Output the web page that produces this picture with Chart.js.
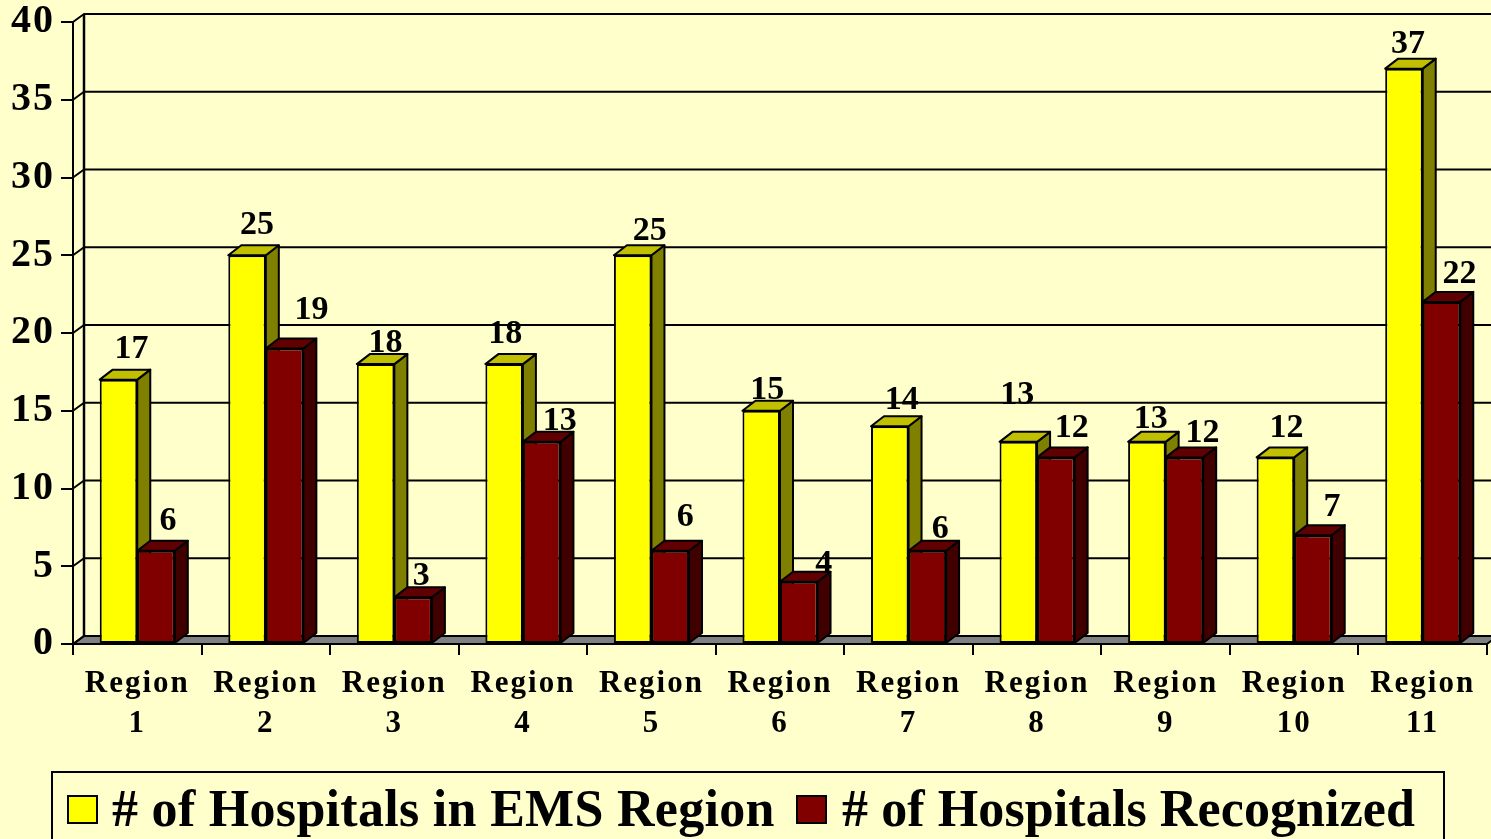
<!DOCTYPE html>
<html>
<head>
<meta charset="utf-8">
<title>Hospitals by EMS Region</title>
<script src="https://cdn.jsdelivr.net/npm/chart.js@4"></script>
<style>
  html, body { margin: 0; padding: 0; background: #FFFFCC; overflow: hidden; }
  canvas { display: block; }
</style>
</head>
<body>
<canvas id="chart" width="1491" height="839"></canvas>
<script>
const regions = [
  ['Region', '1'], ['Region', '2'], ['Region', '3'], ['Region', '4'],
  ['Region', '5'], ['Region', '6'], ['Region', '7'], ['Region', '8'],
  ['Region', '9'], ['Region', '10'], ['Region', '11']
];
const hospitalsInRegion = [17, 25, 18, 18, 25, 15, 14, 13, 13, 12, 37];
const hospitalsRecognized = [6, 19, 3, 13, 6, 4, 6, 12, 12, 7, 22];

// hand placed value labels in the original, [dx, dy] from the bar's top centre
const inRegionLabelShift = [[13, -30], [10, -30], [10, -21], [1, -30], [17, -24], [6, -21], [12, -26], [-1, -47], [4, -23], [11, -29], [4, -24]];
const recognizedLabelShift = [[12, -29], [27, -38], [8, -21], [18, -21], [15, -33], [25, -18], [13, -21], [16, -29], [18, -24], [19, -28], [18, -28]];

const SERIF = '"Liberation Serif", "Times New Roman", serif';
const WALL_DX = 11, WALL_DY = 8;
const BAR_DX = 13, BAR_DY = 10;

const sideColors = ['#808000', '#400000'];
const topColors = ['#C0C000', '#600000'];

function poly(ctx, pts, fill) {
  ctx.beginPath();
  pts.forEach((p, i) => i ? ctx.lineTo(p[0], p[1]) : ctx.moveTo(p[0], p[1]));
  ctx.closePath();
  ctx.fillStyle = fill;
  ctx.fill();
  ctx.stroke();
}

// back wall, floor and the depth faces of the bars
const depthPlugin = {
  id: 'depth',
  beforeDraw(chart) {
    chart.ctx.letterSpacing = '2px';
  },
  beforeDatasetsDraw(chart) {
    const ctx = chart.ctx;
    const y = chart.scales.y, area = chart.chartArea;
    ctx.save();
    ctx.letterSpacing = '0px';
    ctx.strokeStyle = '#000';
    ctx.lineWidth = 2;
    ctx.lineJoin = 'round';

    poly(ctx, [
      [area.left, area.bottom],
      [area.left + WALL_DX, area.bottom - WALL_DY],
      [area.right + WALL_DX, area.bottom - WALL_DY],
      [area.right, area.bottom]
    ], '#808080');

    y.ticks.forEach(t => {
      const py = y.getPixelForValue(t.value);
      ctx.beginPath();
      ctx.moveTo(area.left, py);
      ctx.lineTo(area.left + WALL_DX, py - WALL_DY);
      ctx.lineTo(area.right + WALL_DX, py - WALL_DY);
      ctx.stroke();
    });
    ctx.lineWidth = 2.5;
    ctx.beginPath();
    ctx.moveTo(area.left + WALL_DX, area.top - WALL_DY);
    ctx.lineTo(area.left + WALL_DX, area.bottom - WALL_DY);
    ctx.stroke();

    ctx.lineWidth = 2;
    chart.data.datasets.forEach((ds, i) => {
      chart.getDatasetMeta(i).data.forEach(bar => {
        const half = bar.width / 2;
        const l = bar.x - half, r = bar.x + half;
        poly(ctx, [[r, bar.y], [r + BAR_DX, bar.y - BAR_DY], [r + BAR_DX, bar.base - BAR_DY], [r, bar.base]], sideColors[i]);
        poly(ctx, [[l, bar.y], [l + BAR_DX, bar.y - BAR_DY], [r + BAR_DX, bar.y - BAR_DY], [r, bar.y]], topColors[i]);
      });
    });
    ctx.restore();
  },
  afterDatasetsDraw(chart) {
    const ctx = chart.ctx;
    const shifts = [inRegionLabelShift, recognizedLabelShift];
    ctx.save();
    ctx.letterSpacing = '0px';
    ctx.font = 'bold 34px ' + SERIF;
    ctx.fillStyle = '#000';
    ctx.textAlign = 'center';
    ctx.textBaseline = 'middle';
    chart.data.datasets.forEach((ds, i) => {
      chart.getDatasetMeta(i).data.forEach((bar, j) => {
        ctx.fillText(ds.data[j], bar.x + shifts[i][j][0], bar.y + shifts[i][j][1]);
      });
    });
    ctx.restore();
  },
  // boxed legend, runs off the bottom of the picture like the original
  afterDraw(chart) {
    const ctx = chart.ctx;
    const swatchX = [68, 797], textX = [112, 842], spacing = ['0.3px', '0.1px'];
    ctx.save();
    ctx.strokeStyle = '#000';
    ctx.lineWidth = 2;
    ctx.strokeRect(52, 772, 1392, 90);
    ctx.font = 'bold 52px ' + SERIF;
    ctx.textBaseline = 'alphabetic';
    chart.data.datasets.forEach((ds, i) => {
      ctx.fillStyle = ds.backgroundColor;
      ctx.fillRect(swatchX[i], 796, 29, 27);
      ctx.strokeRect(swatchX[i], 796, 29, 27);
      ctx.fillStyle = '#000';
      ctx.letterSpacing = spacing[i];
      ctx.fillText(ds.label, textX[i], 826);
    });
    ctx.restore();
  }
};

new Chart(document.getElementById('chart'), {
  type: 'bar',
  data: {
    labels: regions,
    datasets: [
      { label: '# of Hospitals in EMS Region', data: hospitalsInRegion, backgroundColor: '#FFFF00' },
      { label: '# of Hospitals Recognized', data: hospitalsRecognized, backgroundColor: '#800000' }
    ]
  },
  options: {
    responsive: false,
    animation: false,
    layout: { padding: { top: 22, right: 4, left: 0, bottom: 0 } },
    datasets: {
      bar: {
        barPercentage: 1,
        categoryPercentage: 0.584,
        borderColor: '#000',
        borderWidth: 2,
        borderSkipped: false
      }
    },
    plugins: {
      legend: { display: false },
      title: { display: false },
      tooltip: { enabled: false }
    },
    scales: {
      x: {
        afterFit(scale) { scale.height = 195; },
        border: { color: '#000', width: 2 },
        grid: { drawOnChartArea: false, color: '#000', lineWidth: 2, tickLength: 11 },
        ticks: {
          autoSkip: false,
          maxRotation: 0,
          padding: 9,
          color: '#000',
          font: { family: SERIF, size: 31, weight: 'bold', lineHeight: 1.29 }
        }
      },
      y: {
        min: 0,
        max: 40,
        afterFit(scale) {
          scale.width = 73;
          scale.paddingTop = 0;
          scale.paddingBottom = 0;
        },
        border: { color: '#000', width: 2 },
        grid: { drawOnChartArea: false, color: '#000', lineWidth: 2, tickLength: 12 },
        ticks: {
          stepSize: 5,
          padding: 6,
          color: '#000',
          font: { family: SERIF, size: 40, weight: 'bold' }
        }
      }
    }
  },
  plugins: [depthPlugin]
});
</script>
</body>
</html>
